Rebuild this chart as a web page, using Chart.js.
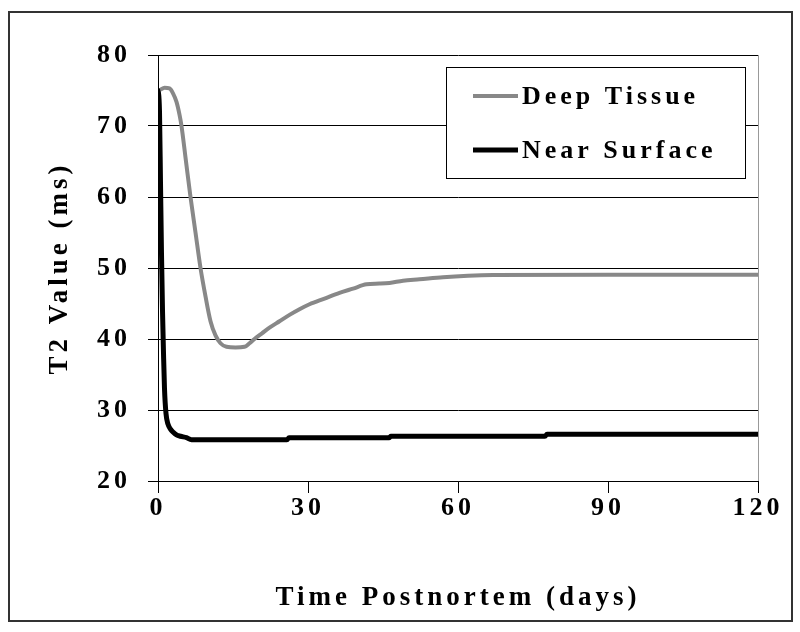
<!DOCTYPE html>
<html>
<head>
<meta charset="utf-8">
<script src="https://cdn.jsdelivr.net/npm/chart.js@4.4.0/dist/chart.umd.min.js"></script>
<style>
  body { margin: 0; background: #fff; }
  #wrap { position: relative; width: 800px; height: 632px; }
  #frame { position: absolute; left: 8px; top: 11px; width: 781px; height: 607px; border: 2px solid #333; pointer-events: none; }
  canvas { position: absolute; left: 0; top: 0; }
</style>
</head>
<body>
<div id="wrap">
  <canvas id="t2Chart" width="800" height="632"></canvas>
  <div id="frame"></div>
</div>
<script>
// days postmortem and T2 values (ms)
const deepDays = [0.5, 1.3, 2.3, 3.0, 3.7, 4.3, 4.7, 5.6, 6.5, 7.5, 8.5, 9.5, 10.5, 11.5, 12.5, 13.7, 15.5, 17.3, 18.3, 19.3, 20.8, 22.3, 24.3, 26.3, 28.3, 30.3, 33.3, 36.3, 39.0, 41.7, 44.3, 46.3, 49.0, 52.3, 57.0, 62.0, 67.0, 90.0, 120.0];
const deepT2 = [75.1, 75.4, 75.3, 74.6, 73.4, 71.6, 70.0, 65.0, 60.0, 55.0, 50.0, 46.0, 42.5, 40.5, 39.4, 38.9, 38.8, 38.9, 39.4, 40.0, 40.8, 41.6, 42.5, 43.4, 44.2, 44.9, 45.7, 46.5, 47.1, 47.7, 47.8, 47.9, 48.2, 48.4, 48.7, 48.9, 49.0, 49.05, 49.05];

const nearDays = [0, 0.3, 0.5, 0.7, 0.9, 1.1, 1.3, 1.6, 2.0, 2.5, 3.0, 3.7, 4.5, 5.7, 6.7, 25.8, 26.2, 46.2, 46.6, 77.4, 77.8, 120];
const nearT2 = [75.3, 72, 62, 52, 44, 38, 33, 29.5, 28.0, 27.3, 26.9, 26.5, 26.3, 26.1, 25.8, 25.8, 26.1, 26.1, 26.3, 26.3, 26.6, 26.6];

const yTicks = [20, 30, 40, 50, 60, 70, 80];
const xTicks = [0, 30, 60, 90, 120];

const serif = 'Liberation Serif, Times New Roman, serif';

const toPoints = (xs, ys) => xs.map((x, i) => ({ x: x, y: ys[i] }));

// the original's lettering is spaced out wide
const wideText = {
  id: 'wideText',
  beforeLayout(chart) { chart.ctx.letterSpacing = '4px'; },
  beforeDraw(chart) { chart.ctx.letterSpacing = '4px'; }
};

// legend drawn as a framed box inside the plot, like the original
const boxLegend = {
  id: 'boxLegend',
  afterDraw(chart) {
    const ctx = chart.ctx;
    const x0 = 446, y0 = 67, w = 299, h = 111;
    ctx.save();
    ctx.fillStyle = '#fff';
    ctx.fillRect(x0, y0, w, h);
    ctx.strokeStyle = '#000';
    ctx.lineWidth = 1;
    ctx.strokeRect(x0 + 0.5, y0 + 0.5, w, h);
    ctx.font = 'bold 26px ' + serif;
    ctx.letterSpacing = '4px';
    ctx.textBaseline = 'middle';
    ctx.fillStyle = '#000';
    chart.data.datasets.forEach((ds, i) => {
      const y = 96 + i * 54;
      ctx.strokeStyle = ds.borderColor;
      ctx.lineWidth = ds.borderWidth;
      ctx.beginPath();
      ctx.moveTo(473, y);
      ctx.lineTo(518, y);
      ctx.stroke();
      ctx.fillText(ds.label, 522, y + 1);
    });
    ctx.restore();
  }
};

new Chart(document.getElementById('t2Chart'), {
  type: 'line',
  data: {
    datasets: [{
      label: 'Deep Tissue',
      data: toPoints(deepDays, deepT2),
      borderColor: '#888888',
      borderWidth: 4,
      pointRadius: 0,
      cubicInterpolationMode: 'monotone',
      fill: false
    }, {
      label: 'Near Surface',
      data: toPoints(nearDays, nearT2),
      borderColor: '#000000',
      borderWidth: 5,
      pointRadius: 0,
      cubicInterpolationMode: 'monotone',
      fill: false
    }]
  },
  options: {
    responsive: false,
    animation: false,
    layout: { padding: { left: 0, right: 42, top: 55, bottom: 0 } },
    plugins: {
      legend: { display: false },
      tooltip: { enabled: false }
    },
    scales: {
      x: {
        type: 'linear',
        min: 0,
        max: 120,
        afterBuildTicks: s => { s.ticks = xTicks.map(v => ({ value: v })); },
        afterFit: s => { s.height = 151; },
        border: { color: '#000', width: 1 },
        grid: {
          color: c => (c.tick && c.tick.value === 120) ? '#999' : 'rgba(0,0,0,0)',
          tickColor: '#000',
          tickLength: 12
        },
        ticks: {
          padding: 0,
          color: '#000',
          font: { family: serif, size: 26, weight: 'bold' }
        },
        title: {
          display: true,
          text: 'Time Postnortem (days)',
          color: '#000',
          font: { family: serif, size: 27, weight: 'bold' },
          padding: { top: 0, bottom: 18 }
        }
      },
      y: {
        min: 20,
        max: 80,
        afterBuildTicks: s => { s.ticks = yTicks.map(v => ({ value: v })); },
        afterFit: s => { s.width = 158; },
        border: { color: '#000', width: 1 },
        grid: {
          color: '#000',
          tickColor: '#000',
          tickLength: 10
        },
        ticks: {
          padding: 17,
          color: '#000',
          font: { family: serif, size: 26, weight: 'bold' }
        },
        title: {
          display: true,
          text: 'T2 Value (ms)',
          color: '#000',
          font: { family: serif, size: 27, weight: 'bold' },
          padding: { top: 44, bottom: 0 }
        }
      }
    }
  },
  plugins: [wideText, boxLegend]
});
</script>
</body>
</html>
